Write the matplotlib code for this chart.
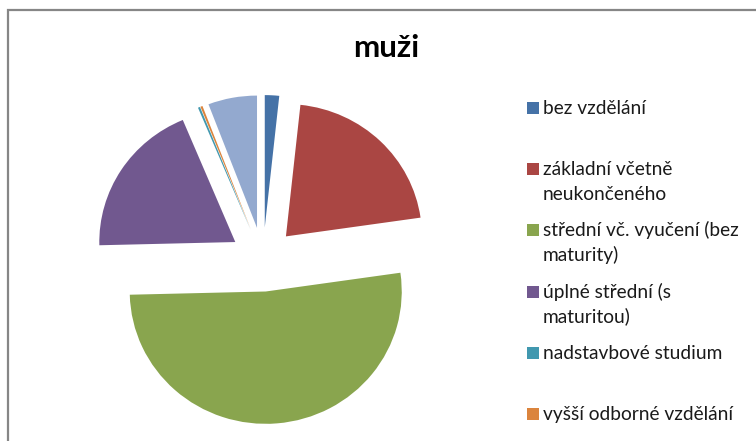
import matplotlib
matplotlib.use("Agg")
import matplotlib.pyplot as plt
from matplotlib.patches import Rectangle

title = "muži"
categories = [
    "bez vzdělání",
    "základní včetně\nneukončeného",
    "střední vč. vyučení (bez\nmaturity)",
    "úplné střední (s\nmaturitou)",
    "nadstavbové studium",
    "vyšší odborné vzdělání",
    "vysokoškolské",
]
values = [1.7, 21.0, 51.8, 19.05, 0.25, 0.25, 5.8]
colors = ["#4572A7", "#AA4643", "#89A54E", "#71588F", "#4198AF", "#DB843D", "#93A9CF"]

W, H = 756, 441
fig = plt.figure(figsize=(W / 100, H / 100), dpi=100)

# pie axes: slightly squashed vertically, as in the reference rendering
SY = 0.973
pax = fig.add_axes([0, 0, 1, 1])
R = 136
pax.pie(values, colors=colors, startangle=90, counterclock=False,
        radius=R, center=(263, (H - 259.5) / SY), explode=[33] * len(values),
        wedgeprops=dict(linewidth=0))
pax.set_aspect("auto")
pax.set_xlim(0, W)
pax.set_ylim(0, H / SY)
pax.axis("off")

# overlay axes for frame, title and legend (pixel coordinates)
ax = fig.add_axes([0, 0, 1, 1])
ax.set_xlim(0, W)
ax.set_ylim(0, H)
ax.axis("off")

ax.add_patch(Rectangle((8, -20), W + 20, H - 10 + 20, fill=False,
                       edgecolor="#868686", linewidth=1.6, clip_on=False))

fam = ["Lato", "DejaVu Sans"]
ax.text(386, H - 57, title, ha="center", va="baseline", fontsize=22.5,
        fontweight="bold", family=fam, color="black")

for i, (lab, col) in enumerate(zip(categories, colors)):
    base = 114 + i * 61.2
    if base > H:
        continue  # entry lies below the visible chart area
    ax.add_patch(Rectangle((527, H - base), 12, 12, facecolor=col,
                           edgecolor="none"))
    for j, line in enumerate(lab.split("\n")):
        ax.text(543, H - (base + j * 25), line, ha="left", va="baseline",
                fontsize=13.8, family=fam, color="#1a1a1a")

fig.savefig("out.png", dpi=100)
